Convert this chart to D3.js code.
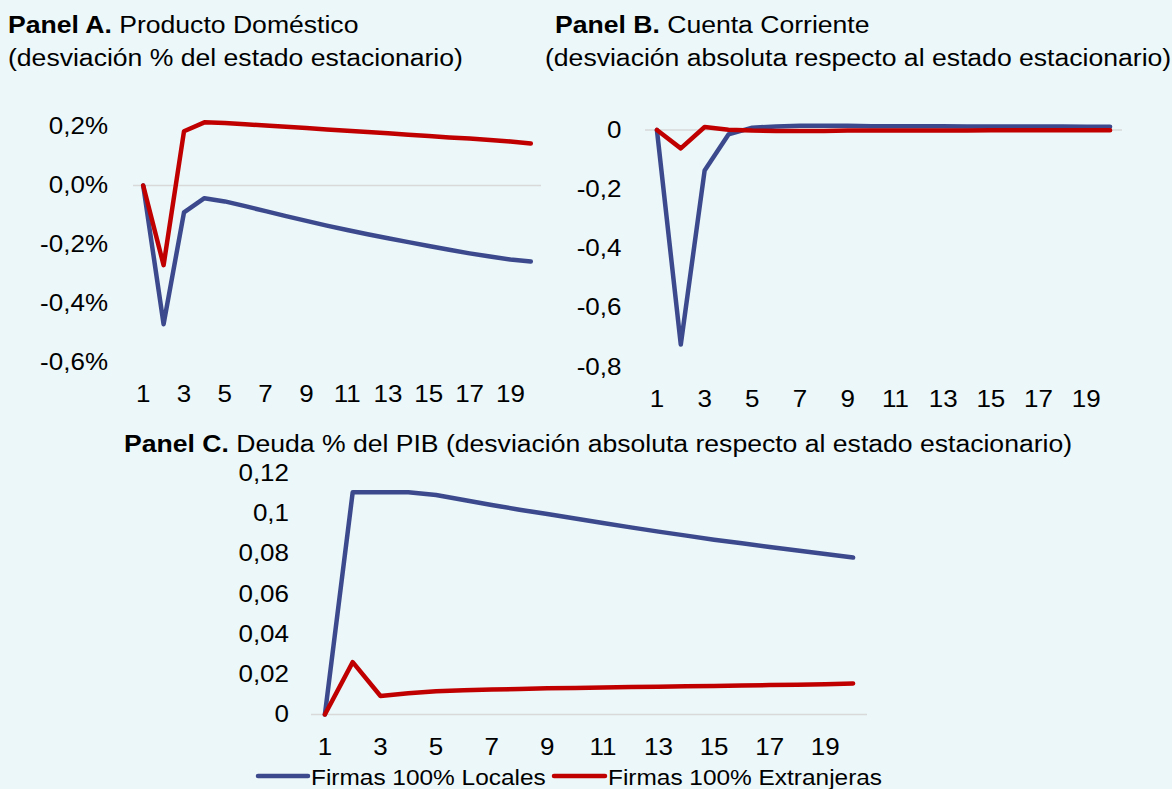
<!DOCTYPE html>
<html><head><meta charset="utf-8">
<script src="https://cdn.jsdelivr.net/npm/d3@7"></script>
<style>
html,body{margin:0;padding:0;background:#EBF7F9;}
svg{display:block;font-family:"Liberation Sans",Arial,sans-serif;}
</style></head><body>
<script>
const periods = d3.range(1, 21);
const xTickLabels = [1,3,5,7,9,11,13,15,17,19];
const seriesNames = ["Firmas 100% Locales", "Firmas 100% Extranjeras"];

// Panel A: Producto Doméstico (% deviation)
const aLocales = [0,-0.47,-0.091,-0.043,-0.054,-0.07,-0.087,-0.104,-0.12,-0.136,-0.151,-0.165,-0.179,-0.192,-0.205,-0.218,-0.23,-0.241,-0.251,-0.258];
const aExtranjeras = [0,-0.27,0.184,0.214,0.212,0.208,0.203,0.199,0.195,0.19,0.186,0.181,0.177,0.172,0.168,0.163,0.159,0.154,0.149,0.142];
const aTicks = [0.2,0,-0.2,-0.4,-0.6];
const aTickLabels = ["0,2%","0,0%","-0,2%","-0,4%","-0,6%"];

// Panel B: Cuenta Corriente
const bLocales = [0,-0.725,-0.137,-0.015,0.008,0.012,0.014,0.014,0.014,0.013,0.013,0.013,0.013,0.012,0.012,0.012,0.012,0.012,0.011,0.011];
const bExtranjeras = [0,-0.062,0.01,0.001,-0.002,-0.003,-0.003,-0.003,-0.002,-0.002,-0.002,-0.002,-0.002,-0.002,-0.001,-0.001,-0.001,-0.001,-0.001,-0.001];
const bTicks = [0,-0.2,-0.4,-0.6,-0.8];
const bTickLabels = ["0","-0,2","-0,4","-0,6","-0,8"];

// Panel C: Deuda % del PIB
const cLocales = [0,0.1103,0.1103,0.1103,0.109,0.1065,0.104,0.1017,0.0995,0.0973,0.0951,0.0929,0.0908,0.0888,0.0868,0.085,0.0832,0.0814,0.0797,0.0779];
const cExtranjeras = [0,0.026,0.0092,0.0105,0.0115,0.012,0.0124,0.0127,0.013,0.0132,0.0134,0.0136,0.0138,0.014,0.0142,0.0144,0.0146,0.0148,0.015,0.0154];
const cTicks = [0.12,0.1,0.08,0.06,0.04,0.02,0];
const cTickLabels = ["0,12","0,1","0,08","0,06","0,04","0,02","0"];

const colors = ["#3C4A8D", "#C00000"];
const W = 1172, H = 789;
const TICK_FS = 23, TICK_SX = 1.13;
const TITLE_FS = 24.5, TITLE_SX = 1.085;
const LEG_FS = 22, LEG_SX = 1.11;
const FONT = "Liberation Sans, Arial, sans-serif";

const svg = d3.select("body").append("svg").attr("width", W).attr("height", H);
svg.append("rect").attr("width", W).attr("height", H).attr("fill", "#EBF7F9");

function panel(cfg) {
  const x = d3.scaleBand().domain(periods).range(cfg.xr);
  const y = d3.scaleLinear().domain(cfg.yd).range(cfg.yr);
  const g = svg.append("g");
  g.append("line").attr("x1", cfg.xr[0]).attr("x2", cfg.xr[1])
    .attr("y1", y(0)).attr("y2", y(0)).attr("stroke", "#D9D9D9").attr("stroke-width", 1.5);
  const yAxis = d3.axisLeft(y).tickValues(cfg.ticks).tickSize(0).tickPadding(0)
    .tickFormat((d, i) => cfg.tickLabels[i]);
  const ya = g.append("g").attr("transform", `translate(${cfg.yLabelX},0)`).call(yAxis);
  ya.select(".domain").remove();
  ya.selectAll("text").attr("x", 0).attr("font-size", TICK_FS).attr("fill", "#000")
    .attr("font-family", FONT).attr("transform", `scale(${TICK_SX},1)`);
  const xAxis = d3.axisBottom(x).tickValues(xTickLabels).tickSize(0).tickPadding(0);
  const xa = g.append("g").attr("transform", `translate(0,${cfg.xLabelBase})`).call(xAxis);
  xa.select(".domain").remove();
  xa.selectAll("text").attr("y", 0).attr("dy", 0).attr("font-size", TICK_FS).attr("fill", "#000")
    .attr("font-family", FONT).attr("transform", `scale(${TICK_SX},1)`);
  const line = d3.line().x((d, i) => x(periods[i]) + x.bandwidth() / 2).y(d => y(d));
  cfg.series.forEach((s, k) => {
    g.append("path").datum(s).attr("d", line).attr("fill", "none")
      .attr("stroke", colors[k]).attr("stroke-width", 4.5)
      .attr("stroke-linejoin", "round").attr("stroke-linecap", "round");
  });
}

panel({xr:[133,541], yd:[-0.6,0.2], yr:[362.5,126.5], ticks:aTicks, tickLabels:aTickLabels,
  yLabelX:108, xLabelBase:402, series:[aLocales, aExtranjeras]});
panel({xr:[645,1122], yd:[-0.8,0], yr:[366.8,130], ticks:bTicks, tickLabels:bTickLabels,
  yLabelX:621.5, xLabelBase:406.5, series:[bLocales, bExtranjeras]});
panel({xr:[311,867], yd:[0,0.12], yr:[714.5,472.8], ticks:cTicks, tickLabels:cTickLabels,
  yLabelX:289, xLabelBase:755, series:[cLocales, cExtranjeras]});

function title(x, y, bold, normal) {
  const g = svg.append("g").attr("transform", `translate(${x},${y})`);
  const t = g.append("text").attr("font-size", TITLE_FS).attr("fill", "#000")
    .attr("transform", `scale(${TITLE_SX},1)`);
  if (bold) t.append("tspan").attr("font-weight", "bold").text(bold);
  t.append("tspan").text(normal);
}
title(8, 33, "Panel A.", " Producto Doméstico");
title(8, 66, null, "(desviación % del estado estacionario)");
title(555, 33, "Panel B.", " Cuenta Corriente");
title(545, 66, null, "(desviación absoluta respecto al estado estacionario)");
title(124, 452, "Panel C.", " Deuda % del PIB (desviación absoluta respecto al estado estacionario)");

const legend = svg.append("g");
const legendItems = [{x1:258, x2:308, tx:311}, {x1:554, x2:605, tx:608}];
seriesNames.forEach((name, k) => {
  const it = legendItems[k];
  legend.append("line").attr("x1", it.x1).attr("x2", it.x2).attr("y1", 776).attr("y2", 776)
    .attr("stroke", colors[k]).attr("stroke-width", 4.5).attr("stroke-linecap", "round");
  legend.append("g").attr("transform", `translate(${it.tx},785)`)
    .append("text").attr("font-size", LEG_FS).attr("fill", "#000")
    .attr("transform", `scale(${LEG_SX},1)`).text(name);
});
</script>
</body></html>
